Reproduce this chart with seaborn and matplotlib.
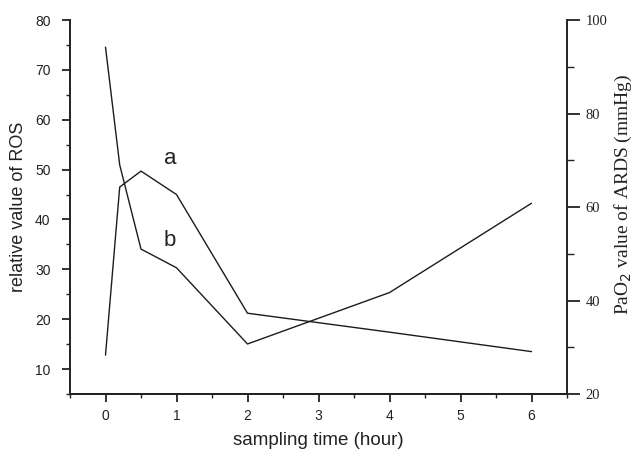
import pandas as pd
import matplotlib.pyplot as plt
import seaborn as sns
from matplotlib.ticker import MultipleLocator

# Data
sampling_time = [0, 0.2, 0.5, 1, 2, 4, 6]
ros_value = [12.8, 46.5, 49.7, 45.0, 21.2, 17.4, 13.5]      # curve a, left axis
pao2_value = [94.2, 69.0, 51.0, 47.0, 30.7, 41.7, 60.8]     # curve b, right axis

data = pd.DataFrame({"time": sampling_time, "ros": ros_value, "pao2": pao2_value})

# Style
sns.set_style("ticks")
plt.rcParams["font.family"] = ["Liberation Sans", "DejaVu Sans"]

fig = plt.figure(figsize=(6.33, 4.51), dpi=100)
ax = fig.add_axes([70 / 633, 1 - 394 / 451, 497 / 633, 374 / 451])
ax2 = ax.twinx()

line_color = "#1c1c1c"
sns.lineplot(data=data, x="time", y="ros", ax=ax, color=line_color, linewidth=1.0, legend=False)
sns.lineplot(data=data, x="time", y="pao2", ax=ax2, color=line_color, linewidth=1.0, legend=False)

# Left / bottom axes
ax.set_xlim(-0.5, 6.5)
ax.set_ylim(5, 80)
ax.xaxis.set_major_locator(MultipleLocator(1))
ax.xaxis.set_minor_locator(MultipleLocator(0.5))
ax.yaxis.set_major_locator(MultipleLocator(10))
ax.yaxis.set_minor_locator(MultipleLocator(5))
ax.set_yticks(range(10, 90, 10))
ax.tick_params(axis="both", which="major", direction="out", length=6, width=1.3,
               labelsize=10, colors="#222222")
ax.tick_params(axis="both", which="minor", direction="out", length=3, width=1.0, colors="#222222")
ax.tick_params(axis="x", pad=5)
ax.tick_params(axis="y", pad=8)
ax.set_xlabel("sampling time (hour)", fontsize=13.5, labelpad=6, color="#222222")
ax.set_ylabel("relative value of ROS", fontsize=13, labelpad=6, color="#222222")

# Right axis
ax2.set_ylim(20, 100)
ax2.yaxis.set_major_locator(MultipleLocator(20))
ax2.yaxis.set_minor_locator(MultipleLocator(10))
ax2.tick_params(axis="y", which="major", direction="out", length=9.5, width=1.3, pad=4,
                labelsize=10.5, colors="#222222")
ax2.tick_params(axis="y", which="minor", direction="out", length=5, width=1.0, colors="#222222")
for lbl in ax2.get_yticklabels():
    lbl.set_family("Liberation Serif")
ax2.set_ylabel("PaO$_2$ value of ARDS (mmHg)", fontsize=14, family="Liberation Serif",
               color="#222222")
ax2.yaxis.set_label_coords(1.092, 0.535)

for a in (ax, ax2):
    a.spines["top"].set_visible(False)
    for s in a.spines.values():
        s.set_linewidth(1.4)
        s.set_color("#222222")
ax.spines["right"].set_visible(False)
ax2.spines["left"].set_visible(False)

# Curve labels
ax.text(0.91, 52.2, "a", fontsize=16, ha="center", va="center", color="#222222")
ax.text(0.91, 35.8, "b", fontsize=16, ha="center", va="center", color="#222222")

plt.savefig("out.png", dpi=100)
plt.close()
